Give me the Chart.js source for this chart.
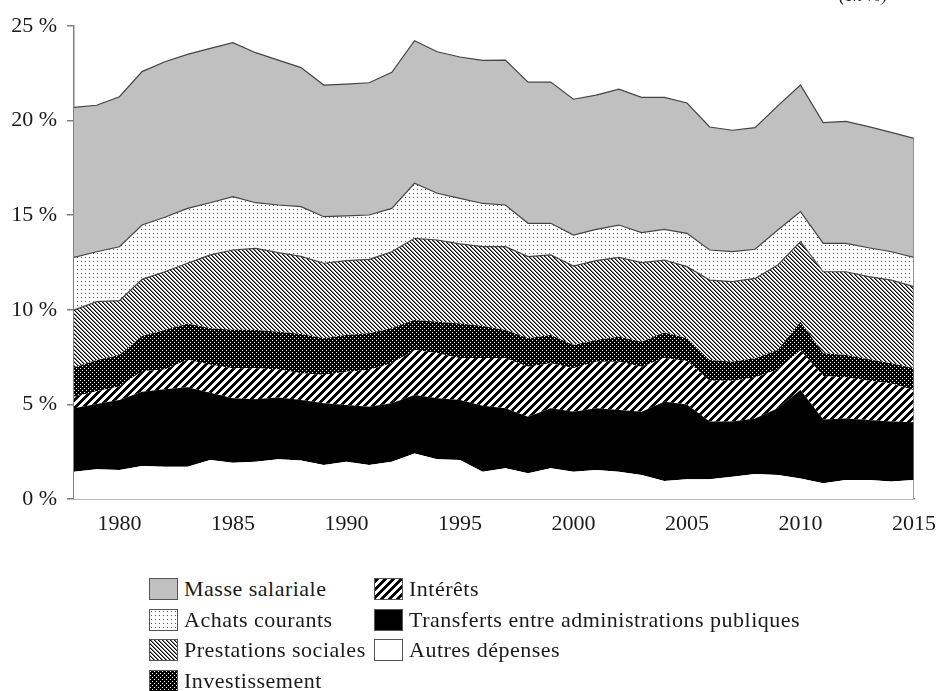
<!DOCTYPE html>
<html lang="fr">
<head>
<meta charset="utf-8">
<title>Dépenses publiques</title>
<script src="https://cdn.jsdelivr.net/npm/chart.js@4.4.1/dist/chart.umd.min.js"></script>
<style>
  html, body { margin: 0; padding: 0; background: #fff; }
  body { width: 940px; height: 691px; position: relative; overflow: hidden;
         font-family: "Liberation Serif", "Times New Roman", serif; color: #1a1a1a; }
  #wrap { position: absolute; left: 0; top: 0; width: 948px; height: 560px; }
  #unite { position: absolute; left: 839px; top: -14px; font-style: italic; font-size: 18px; line-height: 18px; }
  #legende { position: absolute; left: 149px; top: 578px; display: grid;
             grid-template-columns: 225px auto; row-gap: 8.5px; }
  .item { display: flex; align-items: center; height: 22px; font-size: 22px; letter-spacing: 0.5px; white-space: nowrap; }
  .item canvas { border: 1px solid #555; margin-right: 6px; }
</style>
</head>
<body>
<div id="wrap"><canvas id="graphique" width="948" height="560"></canvas></div>
<div id="unite">(en %)</div>
<div id="legende"></div>

<script>
// Années (axe horizontal)
const annees = [1978, 1979, 1980, 1981, 1982, 1983, 1984, 1985, 1986, 1987,
                1988, 1989, 1990, 1991, 1992, 1993, 1994, 1995, 1996, 1997,
                1998, 1999, 2000, 2001, 2002, 2003, 2004, 2005, 2006, 2007,
                2008, 2009, 2010, 2011, 2012, 2013, 2014, 2015];

// Valeurs de chaque poste (en %, empilées du bas vers le haut)
const autres = [1.44, 1.57, 1.53, 1.74, 1.71, 1.71, 2.06, 1.92, 1.97, 2.10,
                2.04, 1.80, 1.97, 1.80, 1.97, 2.41, 2.10, 2.06, 1.44, 1.62,
                1.36, 1.62, 1.44, 1.53, 1.44, 1.27, 0.95, 1.05, 1.04, 1.18,
                1.32, 1.27, 1.09, 0.83, 1.00, 1.00, 0.92, 1.00];
const transferts = [3.35, 3.45, 3.70, 3.93, 4.09, 4.19, 3.56, 3.40, 3.30, 3.27,
                    3.19, 3.26, 3.00, 3.08, 3.09, 3.09, 3.22, 3.17, 3.49, 3.17,
                    2.99, 3.17, 3.17, 3.26, 3.26, 3.34, 4.19, 3.95, 3.05, 2.91,
                    2.94, 3.52, 4.67, 3.37, 3.26, 3.18, 3.17, 3.05];
const interets = [0.62, 0.68, 0.72, 1.08, 1.05, 1.46, 1.48, 1.59, 1.64, 1.48,
                  1.41, 1.49, 1.76, 1.94, 2.11, 2.38, 2.38, 2.21, 2.52, 2.65,
                  2.64, 2.38, 2.30, 2.47, 2.56, 2.38, 2.31, 2.30, 2.16, 2.16,
                  2.16, 2.06, 2.09, 2.30, 2.16, 2.07, 2.01, 1.70];
const investissement = [1.54, 1.65, 1.66, 1.87, 2.08, 1.91, 1.92, 2.04, 2.02, 1.99,
                        2.08, 1.94, 1.94, 1.94, 1.85, 1.58, 1.67, 1.84, 1.70, 1.49,
                        1.50, 1.50, 1.23, 1.14, 1.32, 1.32, 1.35, 1.19, 1.10, 1.01,
                        1.02, 1.03, 1.52, 1.20, 1.19, 1.13, 1.07, 1.16];
const prestations = [3.04, 3.08, 2.87, 2.99, 3.08, 3.19, 3.88, 4.21, 4.32, 4.18,
                     4.10, 3.97, 3.93, 3.91, 4.05, 4.32, 4.32, 4.20, 4.19, 4.41,
                     4.32, 4.23, 4.17, 4.20, 4.19, 4.18, 3.83, 3.79, 4.22, 4.23,
                     4.22, 4.49, 4.23, 4.31, 4.40, 4.37, 4.40, 4.31];
const achats = [2.78, 2.64, 2.85, 2.87, 2.88, 2.90, 2.76, 2.82, 2.41, 2.52,
                2.63, 2.46, 2.36, 2.34, 2.29, 2.91, 2.47, 2.41, 2.28, 2.20,
                1.76, 1.67, 1.64, 1.65, 1.71, 1.59, 1.62, 1.76, 1.59, 1.58,
                1.54, 1.85, 1.59, 1.50, 1.50, 1.53, 1.50, 1.55];
const masse = [7.93, 7.74, 7.93, 8.11, 8.22, 8.14, 8.16, 8.14, 7.93, 7.66,
               7.35, 6.96, 6.97, 6.99, 7.19, 7.53, 7.48, 7.47, 7.56, 7.66,
               7.46, 7.47, 7.18, 7.10, 7.18, 7.15, 6.98, 6.89, 6.50, 6.42,
               6.43, 6.56, 6.69, 6.38, 6.45, 6.40, 6.31, 6.29];

// Graduations de l'axe vertical
const ticksY = [0, 5, 10, 15, 20, 25];

// Postes dans l'ordre d'empilement (bas -> haut)
const postes = [
    { nom: 'Autres dépenses', valeurs: autres, motif: 'blanc', trait: false },
    { nom: 'Transferts entre administrations publiques', valeurs: transferts, motif: 'noir', trait: false },
    { nom: 'Intérêts', valeurs: interets, motif: 'larges', trait: false },
    { nom: 'Investissement', valeurs: investissement, motif: 'dense', trait: false },
    { nom: 'Prestations sociales', valeurs: prestations, motif: 'fines', trait: true },
    { nom: 'Achats courants', valeurs: achats, motif: 'points', trait: true },
    { nom: 'Masse salariale', valeurs: masse, motif: 'gris', trait: true }
];

// Ordre de la légende (ligne par ligne, 2 colonnes)
const ordreLegende = ['Masse salariale', 'Intérêts', 'Achats courants',
    'Transferts entre administrations publiques', 'Prestations sociales',
    'Autres dépenses', 'Investissement'];

// --- Motifs de remplissage ---
function motif(ctx, type) {
    if (type === 'gris') return '#c0c0c0';
    if (type === 'noir') return '#000000';
    if (type === 'blanc') return '#ffffff';

    const c = document.createElement('canvas');
    const t = c.getContext('2d');
    if (type === 'points') {
        c.width = c.height = 4;
        t.fillStyle = '#fff'; t.fillRect(0, 0, 4, 4);
        t.fillStyle = '#555'; t.fillRect(1, 1, 1, 1);
    } else if (type === 'fines') {
        c.width = c.height = 4;
        t.fillStyle = '#fff'; t.fillRect(0, 0, 4, 4);
        for (let i = 0; i < 4; i++) {
            t.fillStyle = '#000'; t.fillRect(i, i, 1, 1);
            t.fillStyle = '#777'; t.fillRect((i + 1) % 4, i, 1, 1);
        }
    } else if (type === 'larges') {
        c.width = c.height = 8;
        t.fillStyle = '#fff'; t.fillRect(0, 0, 8, 8);
        t.fillStyle = '#000';
        for (let x = 0; x < 8; x++)
            for (let y = 0; y < 8; y++)
                if ((x + y) % 8 < 4) t.fillRect(x, y, 1, 1);
    } else if (type === 'dense') {
        c.width = c.height = 4;
        t.fillStyle = '#000'; t.fillRect(0, 0, 4, 4);
        t.fillStyle = '#fff'; t.fillRect(0, 0, 1, 1); t.fillRect(2, 2, 1, 1);
    }
    return ctx.createPattern(c, 'repeat');
}

const ctx = document.getElementById('graphique').getContext('2d');
const police = { family: '"Liberation Serif", "Times New Roman", serif', size: 22 };

const datasets = postes.map((p, i) => ({
    label: p.nom,
    data: p.valeurs,
    backgroundColor: motif(ctx, p.motif),
    borderColor: p.trait ? '#444' : 'rgba(0,0,0,0)',
    borderWidth: 1.2,
    fill: i === 0 ? 'origin' : '-1',
    pointRadius: 0,
    tension: 0,
    stack: 'depenses'
}));

// Bord droit de la surface (de 0 jusqu'au total de la dernière année)
const dernier = annees.length - 1;
const totalFin = postes.reduce((s, p) => s + p.valeurs[dernier], 0);
datasets.push({
    label: 'bord',
    data: [{ x: annees[dernier], y: 0 }, { x: annees[dernier], y: totalFin }],
    borderColor: '#808080',
    borderWidth: 1.5,
    fill: false,
    pointRadius: 0,
    stack: 'bord',
    order: -1
});

new Chart(ctx, {
    type: 'line',
    data: { labels: annees, datasets: datasets },
    options: {
        responsive: false,
        animation: false,
        layout: { padding: { top: 26, right: 19, left: 0, bottom: 0 } },
        plugins: { legend: { display: false }, tooltip: { enabled: false } },
        scales: {
            x: {
                type: 'linear',
                min: annees[0],
                max: annees[dernier],
                grid: { display: true, drawOnChartArea: false, drawTicks: false },
                border: { display: true, color: '#808080', width: 1.5 },
                ticks: {
                    stepSize: 5, includeBounds: false, autoSkip: false, maxRotation: 0,
                    padding: 12, color: '#1a1a1a', font: police,
                    callback: v => String(v)
                },
                afterFit: s => { s.height = 61; }
            },
            y: {
                stacked: true,
                min: ticksY[0],
                max: ticksY[ticksY.length - 1],
                grid: { display: true, drawOnChartArea: false, drawTicks: true, tickLength: 7, color: '#808080', lineWidth: 1.5 },
                border: { display: true, color: '#808080', width: 1.5 },
                afterBuildTicks: s => { s.ticks = ticksY.map(v => ({ value: v })); },
                ticks: {
                    padding: 10, color: '#1a1a1a', font: police,
                    callback: v => v + ' %'
                },
                afterFit: s => { s.width = 74; }
            }
        }
    }
});

// --- Légende HTML ---
const legende = document.getElementById('legende');
ordreLegende.forEach(nom => {
    const p = postes.find(q => q.nom === nom);
    const item = document.createElement('div');
    item.className = 'item';
    const c = document.createElement('canvas');
    c.width = 27; c.height = 20;
    const cx = c.getContext('2d');
    cx.fillStyle = motif(cx, p.motif);
    cx.fillRect(0, 0, 27, 20);
    item.appendChild(c);
    const s = document.createElement('span');
    s.textContent = p.nom;
    item.appendChild(s);
    legende.appendChild(item);
});
</script>
</body>
</html>
